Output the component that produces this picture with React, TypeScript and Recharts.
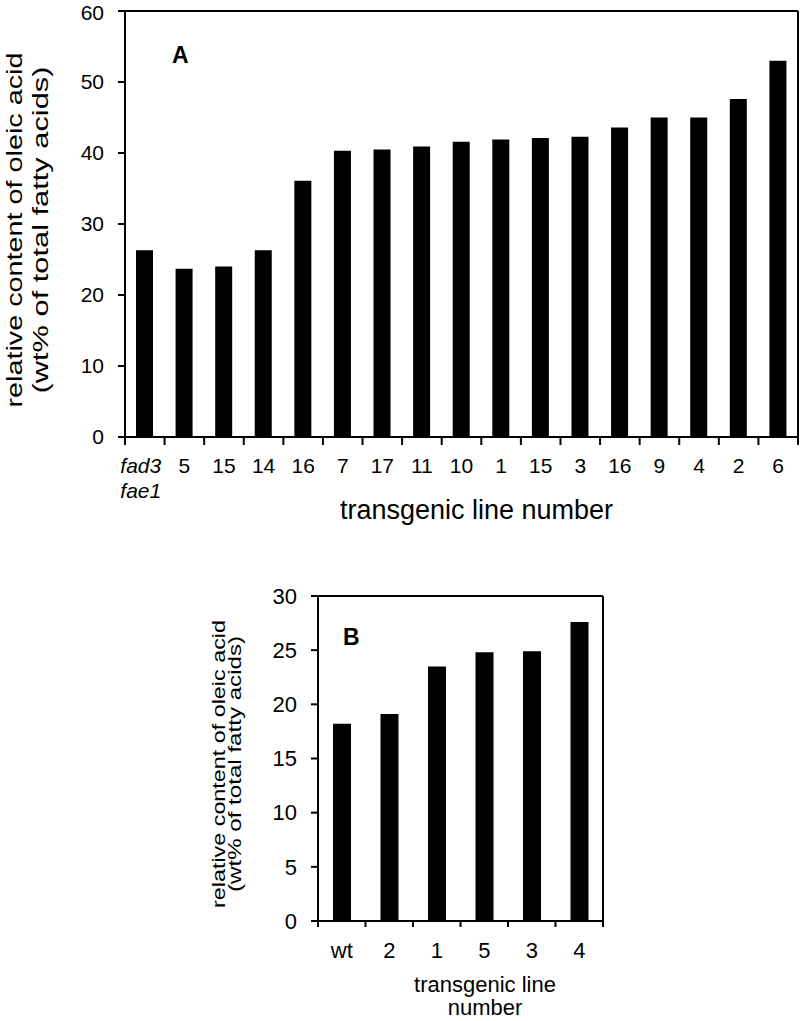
import { BarChart, Bar, XAxis, YAxis } from "recharts";

// panel A: oleic acid in fad3 fae1 background
const lineLabelsA = ["fad3\nfae1", "5", "15", "14", "16", "7", "17", "11", "10", "1", "15", "3", "16", "9", "4", "2", "6"];
const oleicA = [26.3, 23.7, 24.0, 26.3, 36.1, 40.3, 40.5, 40.9, 41.6, 41.9, 42.1, 42.3, 43.6, 45.0, 45.0, 47.6, 53.0];
const ticksA = [0, 10, 20, 30, 40, 50, 60];

// panel B: oleic acid in wild type background
const lineLabelsB = ["wt", "2", "1", "5", "3", "4"];
const oleicB = [18.2, 19.1, 23.5, 24.8, 24.9, 27.6];
const ticksB = [0, 5, 10, 15, 20, 25, 30];

const FONT = '"Liberation Sans", Arial, sans-serif';
const axisStyle = { stroke: "#000", strokeWidth: 2 };

const dataA = oleicA.map((v, i) => ({ idx: i, oleic: v }));
const dataB = oleicB.map((v, i) => ({ idx: i, oleic: v }));

function LineTick(props: any) {
  const { x, y, payload, labels, fontSize, tickLen, dy, lineGap } = props;
  const half = payload.offset ?? 0;
  const i = payload.value;
  const parts = String(labels[i]).split("\n");
  const italic = parts.length > 1;
  return (
    <g>
      <line x1={x - half} x2={x - half} y1={y} y2={y + tickLen} stroke="#000" strokeWidth={2} />
      {i === labels.length - 1 && (
        <line x1={x + half} x2={x + half} y1={y} y2={y + tickLen} stroke="#000" strokeWidth={2} />
      )}
      {parts.map((p: string, k: number) => (
        <text
          key={k}
          x={italic ? x - 4 : x}
          y={y + dy + k * lineGap}
          textAnchor="middle"
          fontSize={fontSize}
          fontStyle={italic ? "italic" : "normal"}
          fontFamily={FONT}
          fill="#000"
        >
          {p}
        </text>
      ))}
    </g>
  );
}

function Panel(props: any) {
  const {
    data, labels, ticks, max, width, height, margin, yWidth, xHeight, barSize,
    tickFont, xTickLen, xTickDy, letter, letterPos, yTitle, xTitle,
  } = props;
  return (
    <BarChart width={width} height={height} data={data} margin={margin} barSize={barSize}>
      <XAxis
        dataKey="idx"
        type="category"
        interval={0}
        height={xHeight}
        tickLine={false}
        tickSize={0}
        tickMargin={0}
        axisLine={axisStyle}
        tick={(p: any) => (
          <LineTick {...p} labels={labels} fontSize={tickFont} tickLen={xTickLen} dy={xTickDy} lineGap={25} />
        )}
        label={(p: any) => {
          const vb = p.viewBox;
          const cx = vb.x + vb.width / 2 + xTitle.dx;
          return (
            <g>
              {xTitle.lines.map((t: string, k: number) => (
                <text key={k} x={cx} y={vb.y + xTitle.dy + k * xTitle.gap} textAnchor="middle"
                  fontSize={xTitle.size} fontFamily={FONT} fill="#000">{t}</text>
              ))}
            </g>
          );
        }}
      />
      {/* top and right edges of the frame */}
      <XAxis xAxisId="top" orientation="top" dataKey="idx" height={1} tick={false} tickLine={false} axisLine={axisStyle} />
      <YAxis
        domain={[0, max]}
        ticks={ticks}
        width={yWidth}
        tickSize={7}
        tickMargin={14}
        tickLine={axisStyle}
        axisLine={axisStyle}
        tick={{ fill: "#000", fontSize: tickFont, fontFamily: FONT }}
        label={(p: any) => {
          const vb = p.viewBox;
          const left = vb.x + vb.width;
          const cy = vb.y + vb.height / 2 + yTitle.dy;
          return (
            <g>
              {yTitle.lines.map((t: string, k: number) => (
                <text key={k} transform={`translate(${yTitle.xs[k]},${cy}) rotate(-90)`} textAnchor="middle"
                  fontSize={yTitle.size} fontFamily={FONT} fill="#000"
                  textLength={yTitle.lengths[k]} lengthAdjust="spacingAndGlyphs">{t}</text>
              ))}
              <text x={left + letterPos[0]} y={vb.y + letterPos[1]} fontSize={23} fontWeight="bold"
                fontFamily={FONT} fill="#000">{letter}</text>
            </g>
          );
        }}
      />
      <YAxis yAxisId="right" orientation="right" width={1} domain={[0, max]} tick={false} tickLine={false} axisLine={axisStyle} />
      <Bar dataKey="oleic" fill="#000" isAnimationActive={false} />
    </BarChart>
  );
}

export default function App() {
  return (
    <div style={{ position: "absolute", left: 0, top: 0, width: 800, height: 1021, background: "#fff" }}>
      <div style={{ position: "absolute", left: 0, top: 0 }}>
        <Panel
          data={dataA}
          labels={lineLabelsA}
          ticks={ticksA}
          max={60}
          width={800}
          height={530}
          margin={{ top: 10, right: 1, left: 0, bottom: 0 }}
          yWidth={125}
          xHeight={93}
          barSize={17}
          tickFont={21}
          xTickLen={8}
          xTickDy={36}
          letter="A"
          letterPos={[47, 52]}
          yTitle={{
            lines: ["relative content of oleic acid", "(wt% of total fatty acids)"],
            xs: [22, 47.5],
            lengths: [355, 327],
            size: 22,
            dy: 6,
          }}
          xTitle={{ lines: ["transgenic line number"], dx: 15, dy: 82, gap: 0, size: 27 }}
        />
      </div>
      <div style={{ position: "absolute", left: 0, top: 580 }}>
        <Panel
          data={dataB}
          labels={lineLabelsB}
          ticks={ticksB}
          max={30}
          width={800}
          height={441}
          margin={{ top: 15, right: 196, left: 0, bottom: 0 }}
          yWidth={318}
          xHeight={100}
          barSize={18}
          tickFont={22}
          xTickLen={6}
          xTickDy={37}
          letter="B"
          letterPos={[25, 49]}
          yTitle={{
            lines: ["relative content of oleic acid", "(wt% of total fatty acids)"],
            xs: [225, 241],
            lengths: [288, 256],
            size: 19,
            dy: 5.5,
          }}
          xTitle={{ lines: ["transgenic line", "number"], dx: 24.5, dy: 71, gap: 23, size: 22 }}
        />
      </div>
    </div>
  );
}
